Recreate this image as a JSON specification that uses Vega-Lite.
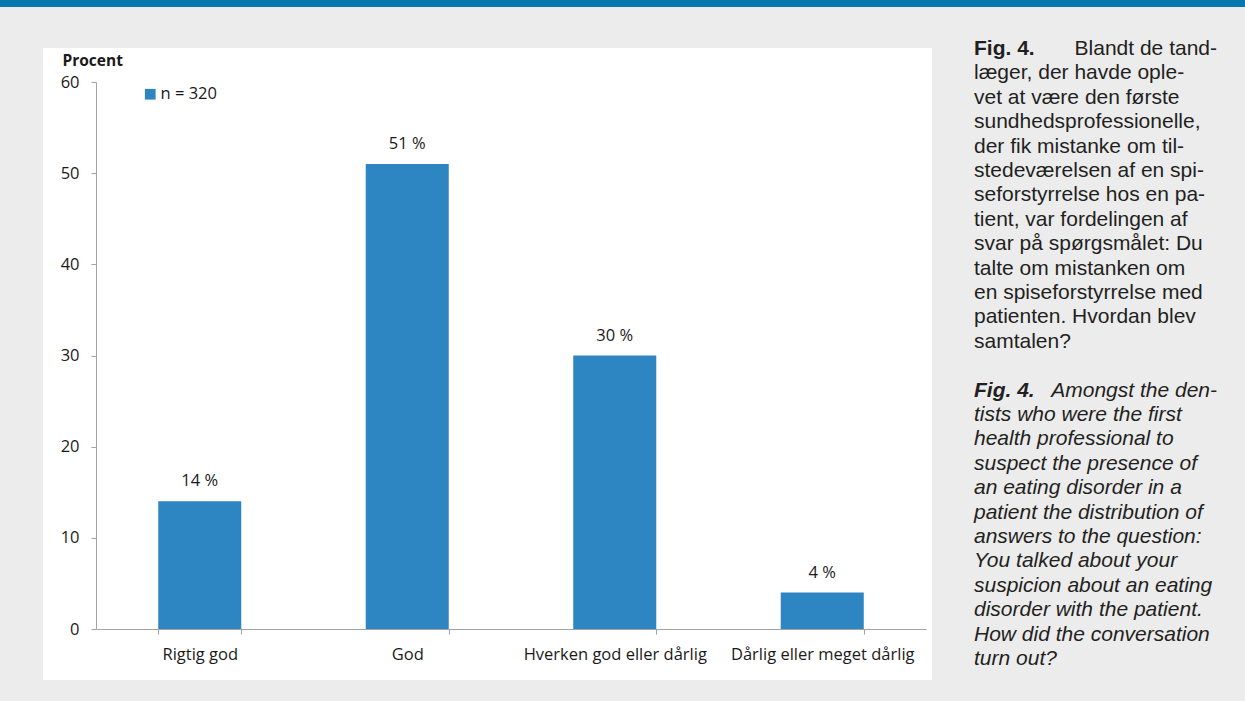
{
  "$schema": "https://vega.github.io/schema/vega-lite/v6.json",
  "padding": {"left": 0, "top": 0, "right": 0, "bottom": 21},
  "background": "#ececed",
  "bounds": "flush",
  "spacing": 41,
  "config": {"view": {"stroke": null}, "font": "Open Sans"},
  "vconcat": [
    {
      "width": 1245,
      "height": 7,
      "view": {"fill": "#0a76ae", "stroke": null},
      "data": {"values": [{}]},
      "mark": {"type": "rect", "color": "#0a76ae"},
      "encoding": {}
    },
    {
      "bounds": "flush",
      "spacing": 42,
      "hconcat": [
        {
          "width": 1,
          "height": 632,
          "data": {"values": []},
          "mark": "point",
          "encoding": {}
        },
        {
          "width": 889,
          "height": 632,
          "view": {"fill": "white", "stroke": null},
          "data": {
            "values": [
              {"svar": "Rigtig god", "procent": 14, "etiket": "14 %", "serie": "n = 320"},
              {"svar": "God", "procent": 51, "etiket": "51 %", "serie": "n = 320"},
              {"svar": "Hverken god eller dårlig", "procent": 30, "etiket": "30 %", "serie": "n = 320"},
              {"svar": "Dårlig eller meget dårlig", "procent": 4, "etiket": "4 %", "serie": "n = 320"}
            ]
          },
          "encoding": {
            "x": {
              "field": "svar",
              "type": "nominal",
              "sort": null,
              "scale": {"range": [53, 883], "paddingInner": 0.6, "paddingOuter": 0.3},
              "axis": {
                "title": null,
                "offset": -51,
                "labelAngle": 0,
                "tickBand": "extent",
                "domainColor": "#a3a3a3",
                "tickColor": "#a3a3a3",
                "tickSize": 5,
                "labelPadding": 12,
                "labelFont": "Open Sans",
                "labelFontSize": 16.5,
                "labelColor": "#1a1a1a",
                "labelOverlap": false,
                "labelLimit": 0
              }
            },
            "y": {
              "field": "procent",
              "type": "quantitative",
              "scale": {"domain": [0, 60], "range": [581, 34], "nice": false},
              "axis": {
                "values": [0, 10, 20, 30, 40, 50, 60],
                "offset": -53,
                "grid": false,
                "domainColor": "#a3a3a3",
                "tickColor": "#a3a3a3",
                "tickSize": 5,
                "labelPadding": 12,
                "labelFont": "Open Sans",
                "labelFontSize": 16.5,
                "labelColor": "#1a1a1a",
                "title": "Procent",
                "titleAngle": 0,
                "titleAlign": "left",
                "titleBaseline": "alphabetic",
                "titleX": -34,
                "titleY": 17,
                "titleFont": "Open Sans",
                "titleFontSize": 15.5,
                "titleFontWeight": "bold",
                "titleColor": "#1a1a1a"
              }
            }
          },
          "layer": [
            {
              "mark": {"type": "bar"},
              "encoding": {
                "color": {
                  "field": "serie",
                  "type": "nominal",
                  "scale": {"range": ["#2d85c1"]},
                  "legend": {
                    "title": null,
                    "orient": "none",
                    "legendX": 142,
                    "legendY": 86,
                    "padding": 0,
                    "symbolType": "square",
                    "symbolSize": 115,
                    "symbolStrokeWidth": 0,
                    "labelOffset": 2,
                    "labelFont": "Open Sans",
                    "labelFontSize": 16.5,
                    "labelColor": "#1a1a1a"
                  }
                }
              }
            },
            {
              "mark": {"type": "text", "dy": -20, "baseline": "middle", "font": "Open Sans", "fontSize": 16.5, "color": "#1a1a1a"},
              "encoding": {"text": {"field": "etiket"}}
            }
          ]
        },
        {
          "width": 243,
          "height": 632,
          "data": {
            "values": [
              {"linje": 0, "blok": "da", "del": "fed", "tekst": "Fig. 4."},
              {"linje": 0, "blok": "da", "del": "hoejre", "tekst": "Blandt de tand-"},
              {"linje": 1, "blok": "da", "del": "normal", "tekst": "læger, der havde ople-"},
              {"linje": 2, "blok": "da", "del": "normal", "tekst": "vet at være den første"},
              {"linje": 3, "blok": "da", "del": "normal", "tekst": "sundhedsprofessionelle,"},
              {"linje": 4, "blok": "da", "del": "normal", "tekst": "der fik mistanke om til-"},
              {"linje": 5, "blok": "da", "del": "normal", "tekst": "stedeværelsen af en spi-"},
              {"linje": 6, "blok": "da", "del": "normal", "tekst": "seforstyrrelse hos en pa-"},
              {"linje": 7, "blok": "da", "del": "normal", "tekst": "tient, var fordelingen af"},
              {"linje": 8, "blok": "da", "del": "normal", "tekst": "svar på spørgsmålet: Du"},
              {"linje": 9, "blok": "da", "del": "normal", "tekst": "talte om mistanken om"},
              {"linje": 10, "blok": "da", "del": "normal", "tekst": "en spiseforstyrrelse med"},
              {"linje": 11, "blok": "da", "del": "normal", "tekst": "patienten. Hvordan blev"},
              {"linje": 12, "blok": "da", "del": "normal", "tekst": "samtalen?"},
              {"linje": 14, "blok": "en", "del": "fed", "tekst": "Fig. 4."},
              {"linje": 14, "blok": "en", "del": "hoejre", "tekst": "Amongst the den-"},
              {"linje": 15, "blok": "en", "del": "normal", "tekst": "tists who were the first"},
              {"linje": 16, "blok": "en", "del": "normal", "tekst": "health professional to"},
              {"linje": 17, "blok": "en", "del": "normal", "tekst": "suspect the presence of"},
              {"linje": 18, "blok": "en", "del": "normal", "tekst": "an eating disorder in a"},
              {"linje": 19, "blok": "en", "del": "normal", "tekst": "patient the distribution of"},
              {"linje": 20, "blok": "en", "del": "normal", "tekst": "answers to the question:"},
              {"linje": 21, "blok": "en", "del": "normal", "tekst": "You talked about your"},
              {"linje": 22, "blok": "en", "del": "normal", "tekst": "suspicion about an eating"},
              {"linje": 23, "blok": "en", "del": "normal", "tekst": "disorder with the patient."},
              {"linje": 24, "blok": "en", "del": "normal", "tekst": "How did the conversation"},
              {"linje": 25, "blok": "en", "del": "normal", "tekst": "turn out?"}
            ]
          },
          "encoding": {
            "y": {"field": "linje", "type": "quantitative", "scale": {"domain": [0, 25], "range": [1, 611]}, "axis": null},
            "text": {"field": "tekst"}
          },
          "layer": [
            {
              "transform": [{"filter": "datum.blok === 'da' && datum.del === 'fed'"}],
              "mark": {"type": "text", "align": "left", "baseline": "middle", "font": "Liberation Sans", "fontSize": 21, "fontWeight": "bold", "color": "#231f20"},
              "encoding": {"x": {"value": 0}}
            },
            {
              "transform": [{"filter": "datum.blok === 'da' && datum.del === 'hoejre'"}],
              "mark": {"type": "text", "align": "right", "baseline": "middle", "font": "Liberation Sans", "fontSize": 21, "color": "#231f20"},
              "encoding": {"x": {"value": "width"}}
            },
            {
              "transform": [{"filter": "datum.blok === 'da' && datum.del === 'normal'"}],
              "mark": {"type": "text", "align": "left", "baseline": "middle", "font": "Liberation Sans", "fontSize": 21, "color": "#231f20"},
              "encoding": {"x": {"value": 0}}
            },
            {
              "transform": [{"filter": "datum.blok === 'en' && datum.del === 'fed'"}],
              "mark": {"type": "text", "align": "left", "baseline": "middle", "font": "Liberation Sans", "fontSize": 21, "fontWeight": "bold", "fontStyle": "italic", "color": "#231f20"},
              "encoding": {"x": {"value": 0}}
            },
            {
              "transform": [{"filter": "datum.blok === 'en' && datum.del === 'hoejre'"}],
              "mark": {"type": "text", "align": "right", "baseline": "middle", "font": "Liberation Sans", "fontSize": 21, "fontStyle": "italic", "color": "#231f20"},
              "encoding": {"x": {"value": "width"}}
            },
            {
              "transform": [{"filter": "datum.blok === 'en' && datum.del === 'normal'"}],
              "mark": {"type": "text", "align": "left", "baseline": "middle", "font": "Liberation Sans", "fontSize": 21, "fontStyle": "italic", "color": "#231f20"},
              "encoding": {"x": {"value": 0}}
            }
          ]
        }
      ]
    }
  ]
}
